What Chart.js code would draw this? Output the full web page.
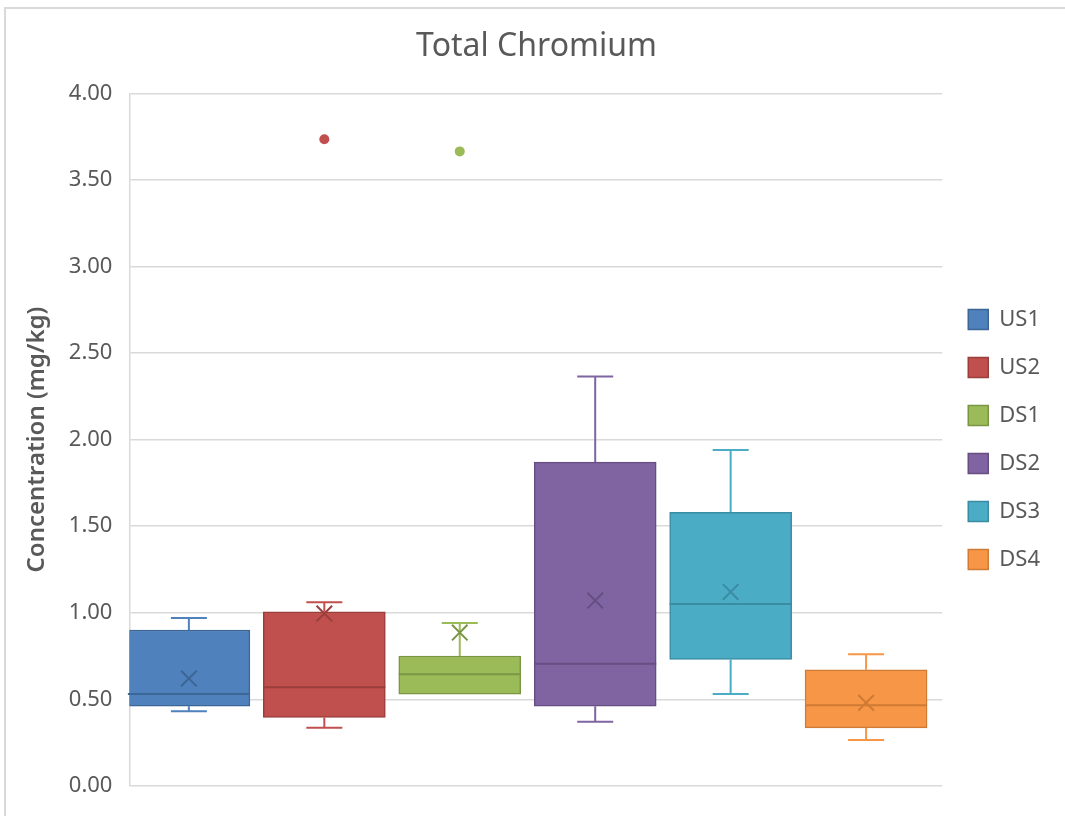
<!DOCTYPE html>
<html><head><meta charset="utf-8">
<script src="https://cdn.jsdelivr.net/npm/chart.js@4.4.0/dist/chart.umd.min.js"></script>
<style>html,body{margin:0;padding:0;background:#fff;}#wrap{width:1065px;height:816px;position:relative;}</style>
</head><body><div id="wrap"><canvas id="c" width="1065" height="816"></canvas></div>
<script>
const categories = ['US1', 'US2', 'DS1', 'DS2', 'DS3', 'DS4'];
const whiskerMin = [0.43, 0.335, 0.53, 0.37, 0.53, 0.265];
const q1 = [0.46, 0.395, 0.53, 0.46, 0.73, 0.335];
const median = [0.53, 0.57, 0.645, 0.705, 1.05, 0.465];
const q3 = [0.90, 1.005, 0.75, 1.87, 1.58, 0.67];
const whiskerMax = [0.97, 1.06, 0.94, 2.365, 1.94, 0.76];
const mean = [0.62, 0.995, 0.885, 1.07, 1.12, 0.48];
const outliers = [[], [3.735], [3.665], [], [], []];
const yTickValues = [0, 0.5, 1, 1.5, 2, 2.5, 3, 3.5, 4];

const fillColors = ['#4F81BD', '#C0504D', '#9BBB59', '#8064A2', '#4BACC6', '#F79646'];
const darkColors = ['#3B6696', '#9A3E3C', '#7A9645', '#644E82', '#3A8CA3', '#CF7A35'];
const FONT = "'Noto Sans', 'Open Sans', sans-serif";
const TXT = '#595959';

const boxDatasets = categories.map((c, i) => ({
  type: 'bar', label: c,
  data: [{ x: i, y: [q1[i], q3[i]] }],
  backgroundColor: fillColors[i], borderColor: darkColors[i], borderWidth: 1.5,
  borderSkipped: false, barThickness: 122, grouped: false, order: 2
}));
const meanDataset = {
  type: 'scatter', label: 'Mean',
  data: categories.map((c, i) => ({ x: i, y: mean[i] })),
  pointStyle: 'crossRot', pointRadius: 11, pointBorderWidth: 2,
  borderColor: darkColors, backgroundColor: darkColors, order: 0
};
const outPts = [], outCols = [];
outliers.forEach((arr, i) => arr.forEach(v => { outPts.push({ x: i, y: v }); outCols.push(fillColors[i]); }));
const outlierDataset = {
  type: 'scatter', label: 'Outliers', data: outPts,
  pointStyle: 'circle', pointRadius: 5, backgroundColor: outCols, borderColor: outCols, pointBorderWidth: 0, order: 0
};

const boxPlugin = {
  id: 'boxExtras',
  beforeDraw(chart) {
    const ctx = chart.ctx;
    ctx.save();
    ctx.fillStyle = '#fff';
    ctx.fillRect(0, 0, chart.width, chart.height);
    ctx.strokeStyle = '#d9d9d9';
    ctx.lineWidth = 2;
    ctx.strokeRect(5, 8, chart.width + 20, chart.height + 20);
    ctx.restore();
  },
  afterDatasetDraw(chart, args) {
    const meta = args.meta;
    if (meta.type !== 'bar') return;
    const i = args.index;
    const el = meta.data[0];
    const y = chart.scales.y;
    const ctx = chart.ctx;
    const cx = el.x, half = el.width / 2, cap = 18;
    ctx.save();
    ctx.lineWidth = 2;
    ctx.strokeStyle = fillColors[i];
    ctx.beginPath();
    const yMax = y.getPixelForValue(whiskerMax[i]), yQ3 = y.getPixelForValue(q3[i]);
    const yMin = y.getPixelForValue(whiskerMin[i]), yQ1 = y.getPixelForValue(q1[i]);
    if (whiskerMax[i] > q3[i]) {
      ctx.moveTo(cx, yQ3); ctx.lineTo(cx, yMax);
      ctx.moveTo(cx - cap, yMax); ctx.lineTo(cx + cap, yMax);
    }
    if (whiskerMin[i] < q1[i]) {
      ctx.moveTo(cx, yQ1); ctx.lineTo(cx, yMin);
      ctx.moveTo(cx - cap, yMin); ctx.lineTo(cx + cap, yMin);
    }
    ctx.stroke();
    ctx.strokeStyle = darkColors[i];
    ctx.beginPath();
    const yMed = y.getPixelForValue(median[i]);
    ctx.moveTo(cx - half, yMed); ctx.lineTo(cx + half, yMed);
    ctx.stroke();
    ctx.restore();
  }
};

new Chart(document.getElementById('c'), {
  type: 'bar',
  data: { datasets: [...boxDatasets, meanDataset, outlierDataset] },
  plugins: [boxPlugin],
  options: {
    responsive: false, animation: false, devicePixelRatio: 1,
    layout: { padding: { top: 10, left: 23, right: 15, bottom: 29 } },
    plugins: {
      title: { display: true, text: 'Total Chromium', color: TXT,
        font: { family: FONT, size: 32, weight: 'normal' }, padding: { top: 18, bottom: 27 } },
      legend: { position: 'right', fullSize: false,
        labels: { boxWidth: 20, boxHeight: 20, padding: 26, color: TXT,
          font: { family: FONT, size: 22 },
          filter: item => item.datasetIndex < categories.length } },
      tooltip: { enabled: false }
    },
    scales: {
      x: { type: 'linear', min: -0.4388, max: 5.5624, offset: false, display: false },
      y: { type: 'linear', min: 0, max: 4,
        afterBuildTicks: s => { s.ticks = yTickValues.map(v => ({ value: v })); },
        ticks: { callback: v => Number(v).toFixed(2), padding: 17, color: TXT, font: { family: FONT, size: 22 } },
        grid: { color: '#d9d9d9', lineWidth: 1.5, drawTicks: false },
        border: { color: '#d9d9d9', width: 1.5 },
        title: { display: true, text: 'Concentration (mg/kg)', color: TXT,
          font: { family: FONT, size: 24, weight: '600' }, padding: { top: 0, bottom: 0 } } }
    }
  }
});
</script></body></html>
